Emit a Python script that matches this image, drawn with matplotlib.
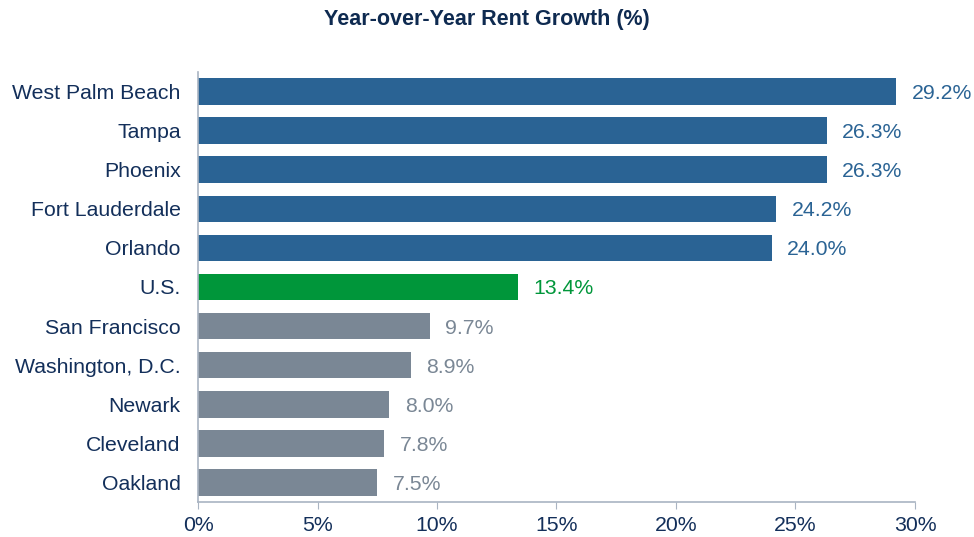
import matplotlib
matplotlib.use("Agg")
import matplotlib.pyplot as plt

cities = ["West Palm Beach", "Tampa", "Phoenix", "Fort Lauderdale", "Orlando", "U.S.",
          "San Francisco", "Washington, D.C.", "Newark", "Cleveland", "Oakland"]
growth = [29.2, 26.3, 26.3, 24.2, 24.0, 13.4, 9.7, 8.9, 8.0, 7.8, 7.5]
groups = ["top", "top", "top", "top", "top", "us", "low", "low", "low", "low", "low"]
xticks = [0, 5, 10, 15, 20, 25, 30]

colors = {"top": "#2A6394", "us": "#00963A", "low": "#7A8795"}
navy = "#132F5A"
axis_col = "#A9B4C2"

plt.rcParams["font.family"] = ["Liberation Sans", "DejaVu Sans"]

fig = plt.figure(figsize=(9.74, 5.37), dpi=100)
ax = fig.add_axes([0.2033, 0.0652, 0.7361, 0.8007])

ypos = list(range(len(cities)))
bar_cols = [colors[g] for g in groups]
ax.barh(ypos, growth, height=0.68, color=bar_cols)

for y, v, c in zip(ypos, growth, bar_cols):
    ax.text(v + 0.65, y + 0.05, f"{v:.1f}%", va="center", ha="left", fontsize=15.3, color=c)

ax.set_ylim(len(cities) - 0.5, -0.5)
ax.set_xlim(0, 30)
ax.set_yticks(ypos)
ax.set_yticklabels(cities, fontsize=15.3, color=navy)
ax.set_xticks(xticks)
ax.set_xticklabels([f"{t}%" for t in xticks], fontsize=15.3, color=navy)
ax.tick_params(axis="y", length=0, pad=12.5)
ax.tick_params(axis="x", length=5, color=axis_col, pad=5)

for s in ["top", "right"]:
    ax.spines[s].set_visible(False)
for s in ["left", "bottom"]:
    ax.spines[s].set_color(axis_col)
    ax.spines[s].set_linewidth(1.2)

fig.text(0.5, 0.963, "Year-over-Year Rent Growth (%)", ha="center", va="center",
         fontsize=15.5, fontweight="bold", color="#0E2A50")

fig.savefig("out.png", dpi=100)
